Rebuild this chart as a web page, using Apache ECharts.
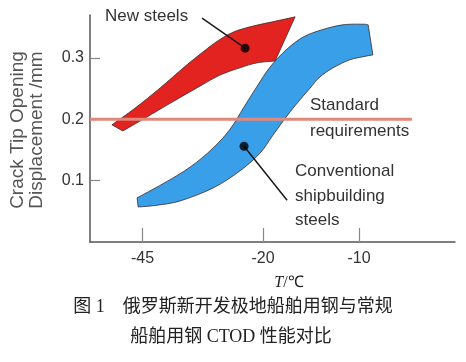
<!DOCTYPE html>
<html>
<head>
<meta charset="utf-8">
<script src="https://cdn.jsdelivr.net/npm/echarts@6/dist/echarts.min.js"></script>
<style>
html,body{margin:0;padding:0;background:#fff;}
#c{width:466px;height:362px;}
</style>
</head>
<body>
<div id="c"></div>
<script>
// Schematic x positions (axis is non-linear in temperature), tick labels in °C
const xTickPos = [14.4, 47.4, 73.7];
const xTickLabels = ['-45', '-20', '-10'];
const yTicks = [0.1, 0.2, 0.3];

// New steels band: upper edge (left->right), lower edge (right->left)
const newUpperX = [6.0, 12.3, 19.2, 26.0, 31.0, 34.8, 39.2, 44.7, 50.1, 56.2];
const newUpperY = [0.191, 0.218, 0.251, 0.286, 0.310, 0.327, 0.342, 0.352, 0.359, 0.367];
const newLowerX = [50.7, 45.8, 41.1, 35.6, 30.1, 22.5, 15.1, 9.0];
const newLowerY = [0.295, 0.292, 0.284, 0.272, 0.254, 0.228, 0.202, 0.181];

// Conventional shipbuilding steels band
const convUpperX = [12.9, 20.0, 27.4, 33.7, 38.4, 42.2, 45.8, 49.3, 53.7, 58.4, 63.6, 69.3, 74.8, 76.2];
const convUpperY = [0.072, 0.095, 0.122, 0.153, 0.184, 0.220, 0.254, 0.285, 0.313, 0.334, 0.346, 0.354, 0.355, 0.354];
const convLowerX = [77.5, 74.8, 71.2, 66.6, 63.0, 60.3, 54.8, 50.1, 46.6, 41.1, 33.7, 24.7, 18.4, 13.2];
const convLowerY = [0.305, 0.302, 0.297, 0.284, 0.269, 0.251, 0.212, 0.174, 0.145, 0.116, 0.088, 0.067, 0.060, 0.057];

// Standard requirement line
const stdX = [0, 88.2];
const stdY = [0.2, 0.2];

// Annotation dots and pointer lines
const newDot = [42.5, 0.316];
const newPointer = [[30.7, 0.365], [42.5, 0.316]];
const convDot = [42.2, 0.156];
const convPointer = [[42.2, 0.156], [54.0, 0.068]];

const bands = [
  { ux: newUpperX, uy: newUpperY, lx: newLowerX, ly: newLowerY, color: '#e3231f' },
  { ux: convUpperX, uy: convUpperY, lx: convLowerX, ly: convLowerY, color: '#3a9fe9' }
];

// smooth curve through pixel points (Catmull-Rom -> cubic Bezier)
function smoothSeg(pts) {
  let d = '';
  for (let i = 0; i < pts.length - 1; i++) {
    const p0 = pts[Math.max(0, i - 1)], p1 = pts[i], p2 = pts[i + 1], p3 = pts[Math.min(pts.length - 1, i + 2)];
    const c1 = [p1[0] + (p2[0] - p0[0]) / 6, p1[1] + (p2[1] - p0[1]) / 6];
    const c2 = [p2[0] - (p3[0] - p1[0]) / 6, p2[1] - (p3[1] - p1[1]) / 6];
    d += ' C' + c1[0].toFixed(2) + ' ' + c1[1].toFixed(2) + ' ' + c2[0].toFixed(2) + ' ' + c2[1].toFixed(2) + ' ' + p2[0].toFixed(2) + ' ' + p2[1].toFixed(2);
  }
  return d;
}

const chart = echarts.init(document.getElementById('c'), null, { renderer: 'canvas' });
const sans = '"Liberation Sans", Arial, sans-serif';
const capFont = '"Liberation Serif", "Noto Sans CJK SC", serif';

chart.setOption({
  animation: false,
  backgroundColor: '#fff',
  grid: { left: 90, right: 11, top: 15, bottom: 120 },
  xAxis: {
    type: 'value', min: 0, max: 100,
    splitLine: { show: false },
    axisLine: { lineStyle: { color: '#555', width: 1.5 } },
    axisTick: { show: true, inside: true, length: 14, customValues: xTickPos, lineStyle: { color: '#888', width: 1.2 } },
    axisLabel: {
      customValues: xTickPos, margin: 9, color: '#333', fontSize: 16, fontFamily: sans,
      formatter: v => { const i = xTickPos.findIndex(p => Math.abs(p - v) < 1e-6); return i >= 0 ? xTickLabels[i] : ''; }
    }
  },
  yAxis: {
    type: 'value', min: 0, max: 0.37,
    splitLine: { show: false },
    axisLine: { lineStyle: { color: '#555', width: 1.5 } },
    axisTick: { show: true, inside: true, length: 10, customValues: yTicks, lineStyle: { color: '#888', width: 1.2 } },
    axisLabel: { customValues: yTicks, margin: 6, color: '#333', fontSize: 16, fontFamily: sans, formatter: v => v.toFixed(1) }
  },
  series: [
    {
      type: 'custom',
      coordinateSystem: 'cartesian2d',
      data: bands.map((b, i) => [i]),
      renderItem: (params, api) => {
        const b = bands[api.value(0)];
        const up = b.ux.map((x, i) => api.coord([x, b.uy[i]]));
        const lo = b.lx.map((x, i) => api.coord([x, b.ly[i]]));
        const d = 'M' + up[0][0] + ' ' + up[0][1] + smoothSeg(up) +
          ' L' + lo[0][0] + ' ' + lo[0][1] + smoothSeg(lo) + ' Z';
        return {
          type: 'path',
          shape: { pathData: d },
          style: { fill: b.color, stroke: '#3a2a2a', lineWidth: 0.8, lineJoin: 'round' }
        };
      },
      z: 2
    },
    {
      type: 'line',
      data: stdX.map((x, i) => [x, stdY[i]]),
      showSymbol: false,
      lineStyle: { color: '#e0887a', width: 3 },
      z: 3
    },
    {
      type: 'line', data: newPointer, showSymbol: false,
      lineStyle: { color: '#1a1a1a', width: 1.5 }, z: 4
    },
    {
      type: 'line', data: convPointer, showSymbol: false,
      lineStyle: { color: '#1a1a1a', width: 1.5 }, z: 4
    },
    {
      type: 'scatter', data: [newDot, convDot], symbolSize: 9,
      itemStyle: { color: '#000' }, z: 5
    }
  ],
  graphic: [
    { type: 'text', x: 27, y: 130, rotation: Math.PI / 2,
      style: { text: 'Crack Tip Opening\nDisplacement /mm', fontSize: 19, lineHeight: 19, fontFamily: sans, fill: '#555', align: 'center', verticalAlign: 'middle' } },
    { type: 'text', x: 105, y: 16,
      style: { text: 'New steels', fontSize: 17, fontFamily: sans, fill: '#333', align: 'left', verticalAlign: 'middle' } },
    { type: 'text', x: 310, y: 105,
      style: { text: 'Standard', fontSize: 17, fontFamily: sans, fill: '#333', align: 'left', verticalAlign: 'middle' } },
    { type: 'text', x: 310, y: 131,
      style: { text: 'requirements', fontSize: 17, fontFamily: sans, fill: '#333', align: 'left', verticalAlign: 'middle' } },
    { type: 'text', x: 295, y: 171,
      style: { text: 'Conventional', fontSize: 17, fontFamily: sans, fill: '#333', align: 'left', verticalAlign: 'middle' } },
    { type: 'text', x: 295, y: 196,
      style: { text: 'shipbuilding', fontSize: 17, fontFamily: sans, fill: '#333', align: 'left', verticalAlign: 'middle' } },
    { type: 'text', x: 295, y: 220,
      style: { text: 'steels', fontSize: 17, fontFamily: sans, fill: '#333', align: 'left', verticalAlign: 'middle' } },
    { type: 'text', x: 289, y: 283,
      style: { text: '{i|T}/℃', align: 'center', verticalAlign: 'middle', fontSize: 16, fontFamily: '"Liberation Serif", serif', fill: '#222',
        rich: { i: { fontStyle: 'italic', fontSize: 16, fontFamily: '"Liberation Serif", serif', fill: '#222' } } } },
    { type: 'text', x: 233, y: 307,
      style: { text: '图 1　俄罗斯新开发极地船舶用钢与常规', fontSize: 18, fontFamily: capFont, fill: '#222', align: 'center', verticalAlign: 'middle' } },
    { type: 'text', x: 231, y: 337,
      style: { text: '船舶用钢 CTOD 性能对比', fontSize: 18, fontFamily: capFont, fill: '#222', align: 'center', verticalAlign: 'middle' } }
  ]
});
</script>
</body>
</html>
